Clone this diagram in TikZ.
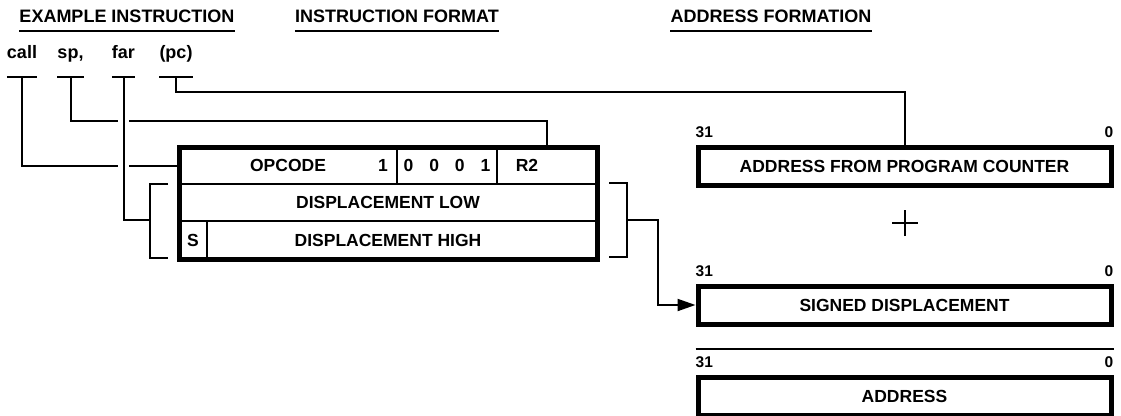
\documentclass[tikz,border=0pt]{standalone}
\usepackage{fontspec}
\setmainfont{Liberation Sans}
\usetikzlibrary{arrows.meta}

\tikzset{
  testo/.style={font=\fontsize{17.5}{20}\selectfont\bfseries,inner sep=0pt},
  testa/.style={testo,font=\fontsize{18}{20}\selectfont\bfseries,anchor=base},
  campo/.style={testo,draw,line width=1.5pt,outer sep=0pt,anchor=north west,minimum height=37pt},
  registro/.style={testo,draw,line width=5pt,minimum width=413pt,minimum height=38pt},
  bit/.style={font=\fontsize{15.5}{16}\selectfont\bfseries,inner sep=0pt},
  filo/.style={line width=2pt},
  ponte/.style={preaction={draw,white,line width=11pt}},
}

\begin{document}
\begin{tikzpicture}[x=1pt,y=-1pt]
    \useasboundingbox (0,0) rectangle (1121,415);

    % intestazioni
    \node[testa] (hesempio) at (127,22) {EXAMPLE INSTRUCTION};
    \node[testa] (hformato) at (397,22) {INSTRUCTION FORMAT};
    \node[testa] (hindirizzo) at (771,22) {ADDRESS FORMATION};
    \foreach \n in {hesempio,hformato,hindirizzo}
        \draw[filo] ([yshift=-9pt]\n.base west) -- ([yshift=-9pt]\n.base east);

    % istruzione
    \node[testa] (call) at (22,58) {call};
    \node[testa] (sp) at (70.5,58) {sp,};
    \node[testa] (far) at (123.5,58) {far};
    \node[testa] (pc) at (176,58) {(pc)};
    \foreach \n in {call,sp,far,pc}
        \coordinate (\n-u) at ([yshift=-19pt]\n.base);

    % formato
    \node[campo,minimum width=218pt] (opc) at (179,147) {OPCODE};
    \node[campo,minimum width=100pt] (bits) at (opc.north east) {0\hspace{16pt}0\hspace{16pt}0\hspace{16pt}1};
    \node[campo,minimum width=100pt] (r2) at (bits.north east) {};
    \node[campo,minimum width=418pt] (dlo) at (opc.south west) {DISPLACEMENT LOW};
    \node[campo,minimum width=28pt,minimum height=38pt] (sgn) at (dlo.south west) {S};
    \node[campo,minimum width=390pt,minimum height=38pt] (dhi) at (sgn.north east) {};
    \node[testo] (uno) at ([xshift=-14pt]opc.east) {1};
    \node[testo] (r2t) at ([xshift=-20pt]r2.center) {R2};
    \node[testo] (dhit) at (dlo.center |- dhi.center) {DISPLACEMENT HIGH};
    \draw[line width=5pt] (opc.north west) rectangle (dhi.south east);

    % registri
    \node[registro] (pcreg) at (904.5,166) {ADDRESS FROM PROGRAM COUNTER};
    \node[registro] (sdreg) at (904.5,305) {SIGNED DISPLACEMENT};
    \node[registro] (adreg) at (904.5,396) {ADDRESS};
    \foreach \r in {pcreg,sdreg,adreg}{
        \node[bit,anchor=south west] (\r-hi) at ([yshift=7pt]\r.north west) {31};
        \node[bit,anchor=south east] (\r-lo) at ([yshift=7pt]\r.north east) {0};
    }
    \draw[filo] ([yshift=26pt]adreg.north west) -- ([yshift=26pt]adreg.north east);

    % somma
    \coordinate (piu) at (905,223);
    \draw[line width=1.5pt] ([xshift=-13pt]piu) -- ([xshift=13pt]piu)
        ([yshift=-13pt]piu) -- ([yshift=13pt]piu);

    % collegamenti
    \coordinate (sp-gomito) at (300,121);
    \coordinate (pc-gomito) at (500,92);
    \coordinate (curva) at (658,220);
    \coordinate (psx) at (150,220);
    \coordinate (pdx) at (627,220);
    \draw[filo] (sp-u) |- (sp-gomito) -| (r2.north);
    \draw[filo] (call-u) |- (opc.west);
    \draw[filo] (pc-u) |- (pc-gomito) -| (pcreg.north);
    \draw[filo,ponte] (far-u) |- (psx);
    \draw[filo,-{Triangle[length=18pt,width=12pt]}] (pdx) -- (curva) |- (sdreg.west);

    % sottolineature e parentesi
    \foreach \n in {call,sp,far,pc}
        \draw[filo] ([yshift=-19pt]\n.base west) -- ([yshift=-19pt]\n.base east);
    \draw[filo] (168,184) -| (150,258) -- (168,258);
    \draw[filo] (609,183) -| (627,257) -- (609,257);
\end{tikzpicture}
\end{document}
